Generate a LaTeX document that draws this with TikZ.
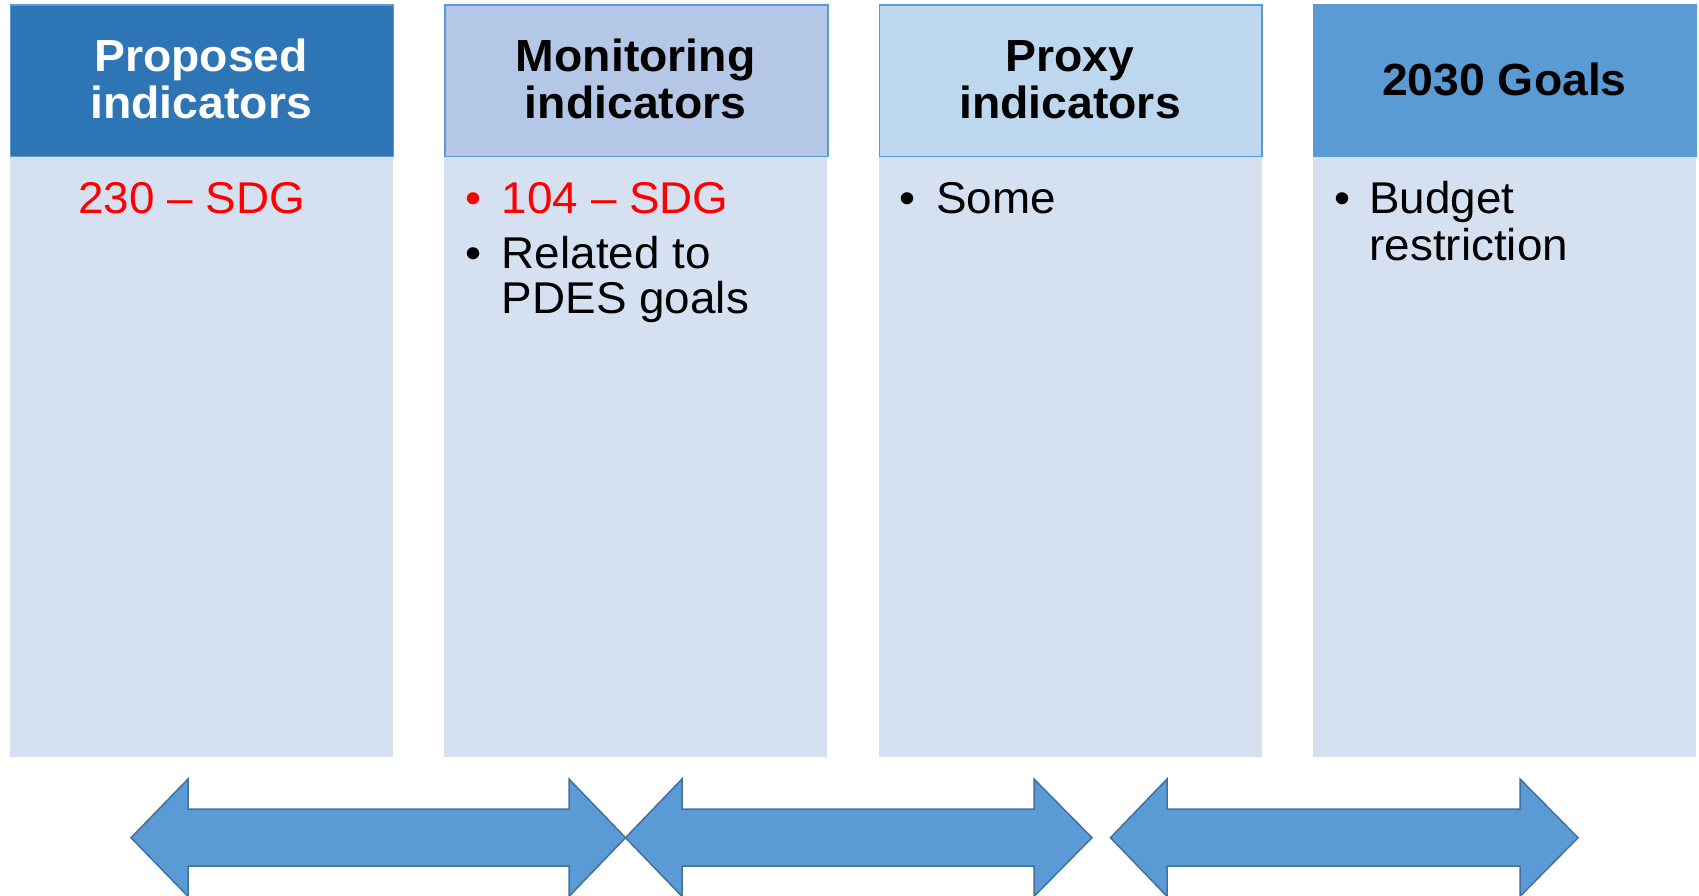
\documentclass[tikz,border=0pt]{standalone}
\usepackage{fontspec}
\setmainfont{Liberation Sans}[FakeStretch=1.03]
\definecolor{hA}{HTML}{2E75B6}
\definecolor{hB}{HTML}{B4C7E7}
\definecolor{hC}{HTML}{BDD7EE}
\definecolor{hD}{HTML}{5B9BD5}
\definecolor{bodyc}{HTML}{D5E1F0}
\definecolor{edgec}{HTML}{5B9BD5}
\definecolor{arrowc}{HTML}{5B9BD5}
\definecolor{arrowe}{HTML}{41719C}
\begin{document}
\begin{tikzpicture}[x=1pt,y=-1pt,
  hbox/.style={draw=edgec, line width=1.5pt, minimum width=382.8pt, minimum height=151.7pt, anchor=north west, inner sep=0pt},
  bbox/.style={fill=bodyc, minimum width=382.8pt, minimum height=601.3pt, anchor=north west, inner sep=0pt},
  htext/.style={font=\fontsize{45}{47}\selectfont\bfseries, inner sep=0pt, anchor=base},
  btext/.style={font=\fontsize{44.5}{46}\selectfont, inner sep=0pt, anchor=base west},
  dblarrow/.style={fill=arrowc, draw=arrowe, line width=1.5pt, line join=miter}
]
\useasboundingbox (0,0) rectangle (1699,895);

% bodies
\node[bbox] (b1) at (9.8,155.7) {};
\node[bbox] (b2) at (444.2,155.7) {};
\node[bbox] (b3) at (878.6,155.7) {};
\node[bbox] (b4) at (1313.0,155.7) {};

% headers
\node[hbox, fill=hA] (h1) at (9.8,4) {};
\node[hbox, fill=hB] (h2) at (444.2,4) {};
\node[hbox, fill=hC] (h3) at (878.6,4) {};
\node[hbox, fill=hD, draw=hD] (h4) at (1313.0,4) {};

% header texts
\node[htext, text=white] (h1a) at (201.2,71.7) {Proposed};
\node[htext, text=white] (h1b) at (201.2,118) {indicators};
\node[htext] (h2a) at (635.6,71.7) {Monitoring};
\node[htext] (h2b) at (635.6,118) {indicators};
\node[htext] (h3a) at (1070,71.7) {Proxy};
\node[htext] (h3b) at (1070,118) {indicators};
\node[htext] (h4a) at (1504.4,95) {2030 Goals};

% body texts
\node[btext, text=red] (t1) at (78,213) {230 – SDG};

\node[btext, text=red] (u2a) at (465.5,213) {•};
\node[btext, text=red] (t2a) at (501.7,213) {104 – SDG};
\node[btext] (u2b) at (465.5,268) {•};
\node[btext] (t2b) at (501.7,268) {Related to};
\node[btext] (t2c) at (501.7,313) {PDES goals};

\node[btext] (u3a) at (899.6,213) {•};
\node[btext] (t3a) at (935.8,213) {Some};

\node[btext] (u4a) at (1334,213) {•};
\node[btext] (t4a) at (1369.2,213) {Budget};
\node[btext] (t4b) at (1369.2,260) {restriction};

% double arrows
\draw[dblarrow] (131,837.7) -- (188,779) -- (188,809) -- (569,809) -- (569,779) -- (625.5,837.7) -- (569,896.4) -- (569,866) -- (188,866) -- (188,896.4) -- cycle;
\draw[dblarrow] (625.5,837.7) -- (682,779) -- (682,809) -- (1034,809) -- (1034,779) -- (1092,837.7) -- (1034,896.4) -- (1034,866) -- (682,866) -- (682,896.4) -- cycle;
\draw[dblarrow] (1110.5,837.7) -- (1167,779) -- (1167,809) -- (1520,809) -- (1520,779) -- (1578,837.7) -- (1520,896.4) -- (1520,866) -- (1167,866) -- (1167,896.4) -- cycle;
\end{tikzpicture}
\end{document}
